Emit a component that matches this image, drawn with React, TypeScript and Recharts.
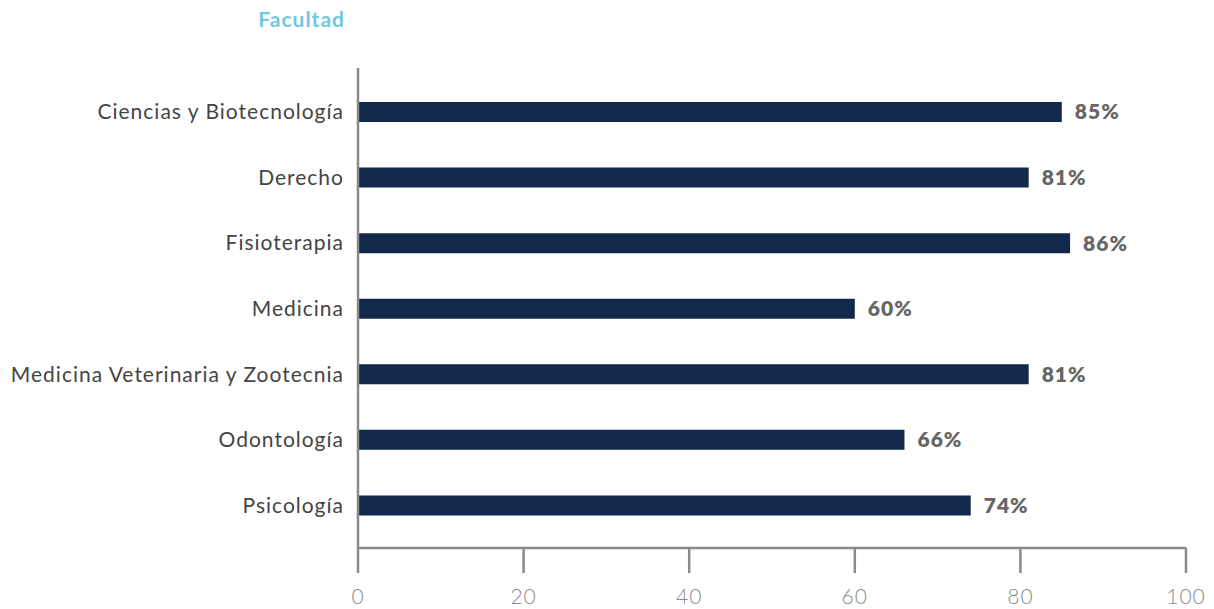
import { BarChart, Bar, XAxis, YAxis, LabelList } from 'recharts';

const facultades = [
  'Ciencias y Biotecnología',
  'Derecho',
  'Fisioterapia',
  'Medicina',
  'Medicina Veterinaria y Zootecnia',
  'Odontología',
  'Psicología',
];
const porcentajes = [85, 81, 86, 60, 81, 66, 74];
const xTicks = [0, 20, 40, 60, 80, 100];

const data = facultades.map((name, i) => ({ name, value: porcentajes[i] }));

const axisColor = '#8a8a8a';

export default function App() {
  return (
    <div style={{ position: 'absolute', left: 0, top: 0, width: 1214, height: 609, background: '#fff' }}>
      <div
        style={{
          position: 'absolute',
          left: 0,
          top: 6,
          width: 345,
          textAlign: 'right',
          fontFamily: 'Lato, sans-serif',
          fontWeight: 700,
          fontSize: 21,
          letterSpacing: 1,
          color: '#72c8df',
        }}
      >
        Facultad
      </div>
      <BarChart
        width={1214}
        height={609}
        data={data}
        layout="vertical"
        margin={{ top: 68, right: 28, left: 0, bottom: 0 }}
      >
        <XAxis
          type="number"
          domain={[0, 100]}
          ticks={xTicks}
          height={61}
          stroke={axisColor}
          strokeWidth={2.5}
          tickSize={25}
          tickMargin={16}
          tick={{ fontSize: 21, fill: '#8a8a8a', fontFamily: 'Lato, sans-serif', fontWeight: 300, letterSpacing: 1 }}
        />
        <YAxis
          type="category"
          dataKey="name"
          width={358}
          stroke={axisColor}
          strokeWidth={2.5}
          tickLine={false}
          tickSize={0}
          tickMargin={14}
          padding={{ top: 11, bottom: 10 }}
          interval={0}
          tick={{ fontSize: 21, fill: '#444', fontFamily: 'Lato, sans-serif', letterSpacing: 1 }}
        />
        <Bar dataKey="value" fill="#13294b" barSize={20} isAnimationActive={false}>
          <LabelList
            dataKey="value"
            position="right"
            offset={13}
            formatter={(v: number) => `${v}%`}
            style={{ fontSize: 21, fontWeight: 800, fill: '#666', fontFamily: 'Lato, sans-serif', letterSpacing: 1 }}
          />
        </Bar>
      </BarChart>
    </div>
  );
}
